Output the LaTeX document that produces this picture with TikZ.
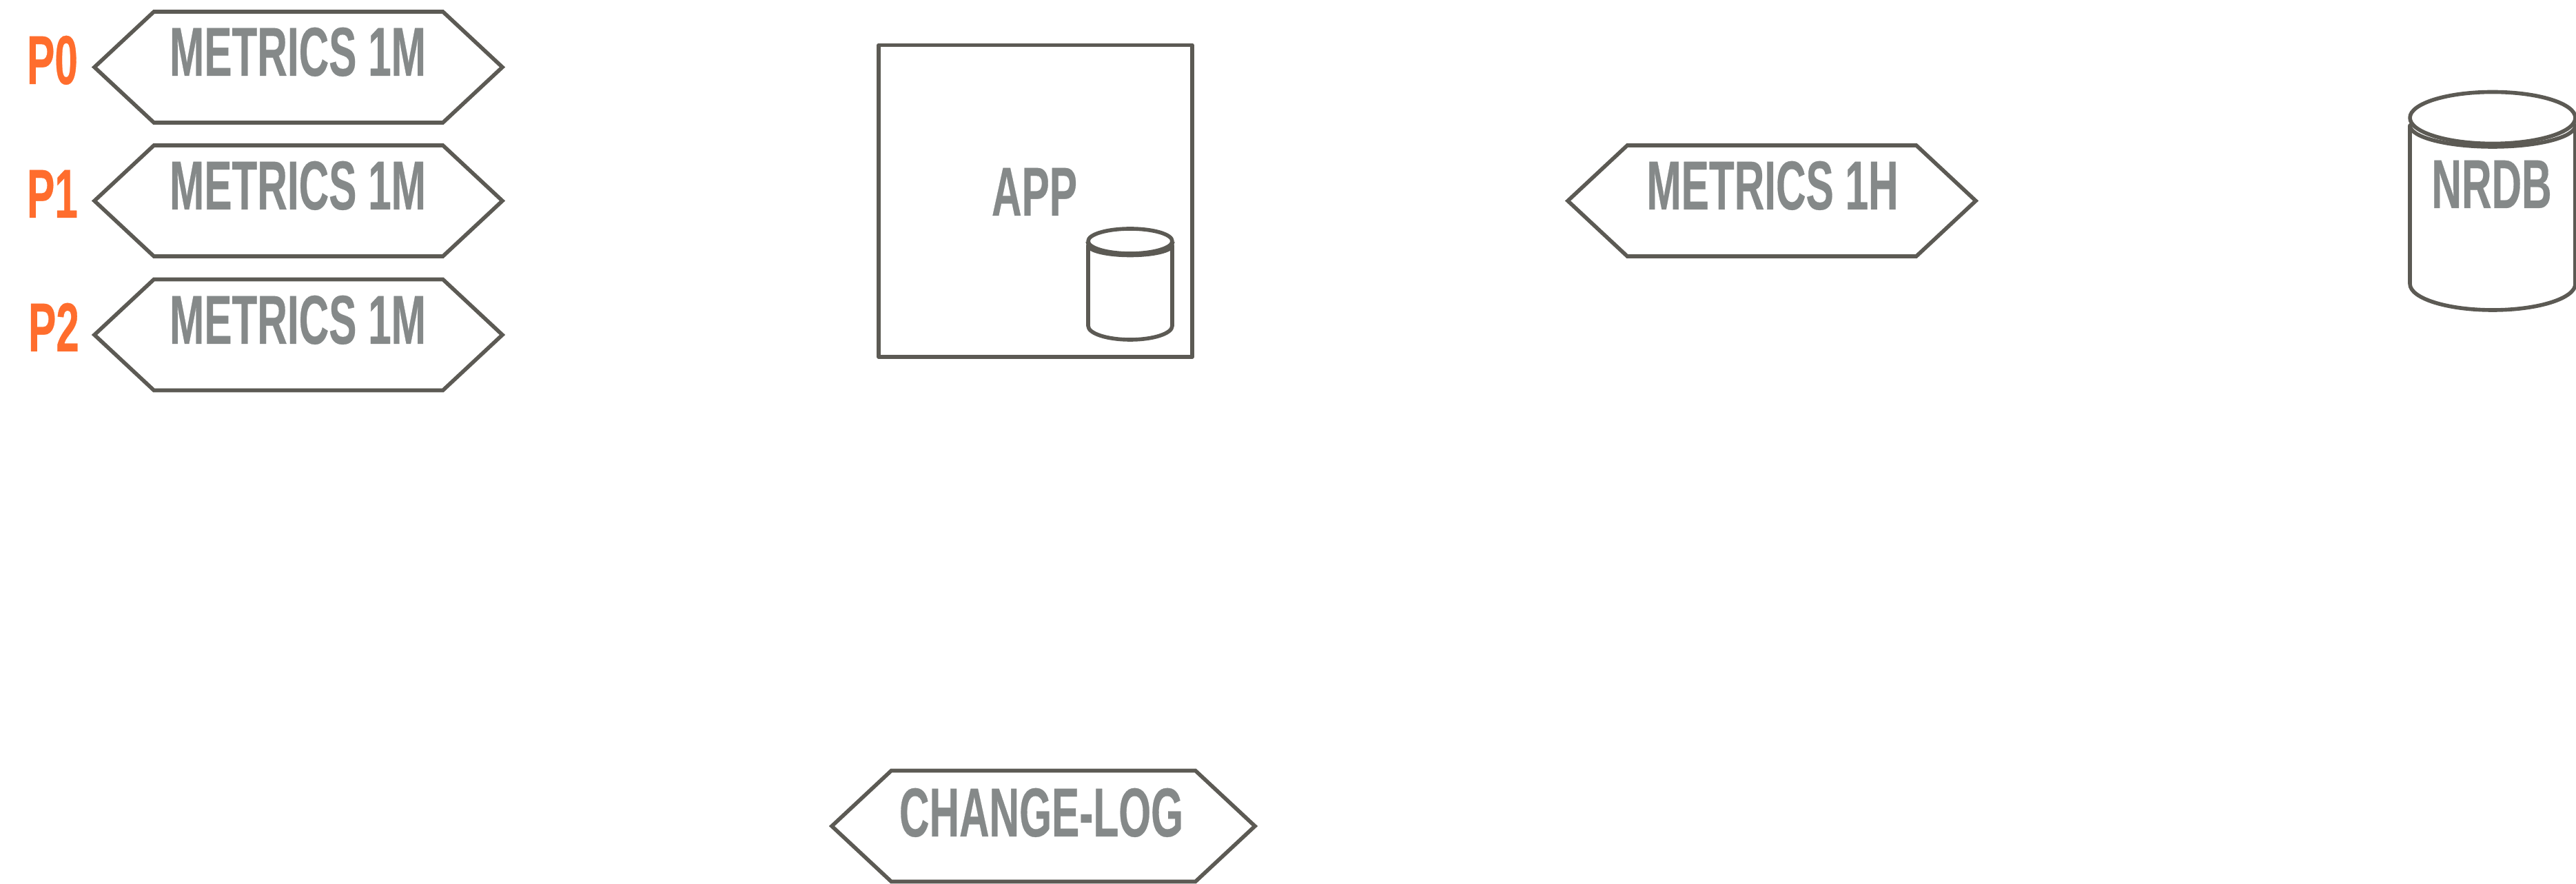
\documentclass[tikz,border=0pt]{standalone}
\usepackage{fontspec}
\setsansfont{Liberation Sans}[FakeStretch=0.6,BoldFont={Liberation Sans Bold},BoldFeatures={FakeBold=0.3}]
\usetikzlibrary{shapes.symbols}
\definecolor{linedark}{HTML}{5C5A54}
\definecolor{labelgray}{HTML}{858989}
\definecolor{partorange}{HTML}{FF6D2D}

\begin{document}
\begin{tikzpicture}[
  font=\sffamily\bfseries\fontsize{28.6}{30}\selectfont,
  hexbox/.style={signal, signal to=west and east, signal pointer angle=86, draw=linedark, line width=1.6pt, minimum height=1.61cm, inner sep=0pt, outer sep=0pt},
  namelabel/.style={text=labelgray, inner sep=0pt, text height=0.72cm, text depth=0pt},
  partlabel/.style={text=partorange, inner sep=0pt, text height=0.72cm, text depth=0pt},
  outline/.style={draw=linedark, line width=1.6pt, line join=round}
]
\useasboundingbox (0,0) rectangle (37.38,-12.83);

% Partition hexagons
\node[hexbox, minimum width=5.92cm] (hexzero) at (4.33,-0.975) {};
\node[hexbox, minimum width=5.92cm] (hexone) at (4.33,-2.915) {};
\node[hexbox, minimum width=5.92cm] (hextwo) at (4.33,-4.86) {};

% Partition names
\node[partlabel] (partzero) at (0.76,-0.86) {P0};
\node[partlabel] (partone) at (0.76,-2.80) {P1};
\node[partlabel] (parttwo) at (0.78,-4.74) {P2};

% Minute metrics labels
\node[namelabel] (metricszero) at (4.32,-0.74) {METRICS 1M};
\node[namelabel] (metricsone) at (4.32,-2.68) {METRICS 1M};
\node[namelabel] (metricstwo) at (4.32,-4.63) {METRICS 1M};

% App box with its local store
\draw[outline] (12.75,-0.655) rectangle (17.30,-5.18);
\node[namelabel] (app) at (15.01,-2.77) {APP};
\draw[outline] (15.79,-3.56) arc[start angle=180, end angle=360, x radius=0.61, y radius=0.145] -- (17.01,-4.73) arc[start angle=360, end angle=180, x radius=0.61, y radius=0.20] -- cycle;
\draw[outline, line width=2.2pt] (15.79,-3.50) arc[start angle=180, end angle=360, x radius=0.61, y radius=0.19];
\draw[outline, fill=white] (16.40,-3.50) ellipse (0.61 and 0.18);

% Hour metrics
\node[hexbox, minimum width=5.92cm] (hexhour) at (25.71,-2.915) {};
\node[namelabel] (metricshour) at (25.72,-2.68) {METRICS 1H};

% NRDB store
\draw[outline] (34.97,-1.82) arc[start angle=180, end angle=360, x radius=1.20, y radius=0.31] -- (37.37,-4.12) arc[start angle=360, end angle=180, x radius=1.20, y radius=0.38] -- cycle;
\draw[outline, fill=white] (36.17,-1.71) ellipse (1.20 and 0.375);
\node[namelabel] (nrdb) at (36.155,-2.66) {NRDB};

% Change log
\node[hexbox, minimum width=6.14cm] (hexlog) at (15.14,-11.99) {};
\node[namelabel] (changelog) at (15.11,-11.78) {CHANGE-LOG};

\end{tikzpicture}
\end{document}
